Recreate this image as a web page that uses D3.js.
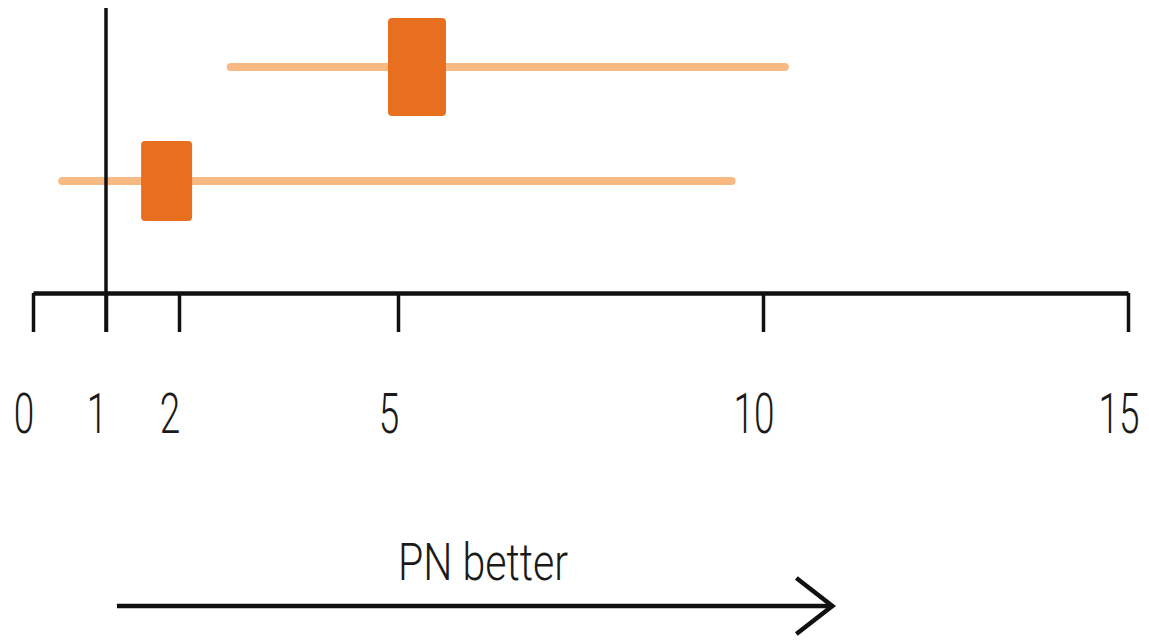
<!DOCTYPE html>
<html>
<head>
<meta charset="utf-8">
<script src="https://cdn.jsdelivr.net/npm/d3@7"></script>
<style>
  body { margin: 0; background: #fff; }
  text { font-family: Roboto, "Liberation Sans", Arial, sans-serif; font-weight: 300; fill: #1a1a1a; }
</style>
</head>
<body>
<div id="vis"></div>
<script>
// forest plot rows (top to bottom)
const studies = ['A', 'B'];
const estimate = [5.26, 1.83];
const lower = [2.71, 0.40];
const upper = [10.30, 9.57];
const weight = [58, 42]; // box size
const tickValues = [0, 1, 2, 5, 10, 15];

const width = 1149;
const height = 641;

const svg = d3.select('#vis')
    .append('svg')
    .attr('width', width)
    .attr('height', height);

const x = d3.scaleLinear().domain([0, 15]).range([33, 1128]);
const y = d3.scaleBand().domain(studies).range([10, 238]).padding(0);
const boxH = d3.scaleLinear().domain([42, 58]).range([80, 98]);
const boxW = d3.scaleLinear().domain([42, 58]).range([51, 58]);

const rows = studies.map((s, i) => ({
    s, est: estimate[i], lo: lower[i], hi: upper[i], w: weight[i]
}));
const cy = d => y(d.s) + y.bandwidth() / 2;

// CI lines
svg.selectAll('line.ci')
    .data(rows)
    .join('line')
    .attr('class', 'ci')
    .attr('x1', d => x(d.lo))
    .attr('x2', d => x(d.hi))
    .attr('y1', cy)
    .attr('y2', cy)
    .attr('stroke', '#f9b983')
    .attr('stroke-width', 8)
    .attr('stroke-linecap', 'round');

// no-effect line at 1
svg.append('line')
    .attr('x1', x(1)).attr('x2', x(1))
    .attr('y1', 8).attr('y2', 332)
    .attr('stroke', '#111')
    .attr('stroke-width', 3.5);

// boxes
svg.selectAll('rect.box')
    .data(rows)
    .join('rect')
    .attr('class', 'box')
    .attr('x', d => x(d.est) - boxW(d.w) / 2)
    .attr('y', d => cy(d) - boxH(d.w) / 2)
    .attr('width', d => boxW(d.w))
    .attr('height', d => boxH(d.w))
    .attr('rx', 4)
    .style('fill', '#e86f1f');

// axis
const axis = svg.append('g')
    .attr('transform', 'translate(0,293)')
    .call(d3.axisBottom(x).tickValues(tickValues).tickSize(39).tickSizeOuter(0).tickFormat(''));
axis.select('.domain').attr('stroke', '#111').attr('stroke-width', 4.5);
axis.selectAll('.tick line').attr('stroke', '#111').attr('stroke-width', 3.5);

// tick labels
svg.selectAll('text.tl')
    .data(tickValues)
    .join('text')
    .attr('class', 'tl')
    .attr('text-anchor', 'middle')
    .attr('font-size', 56)
    .attr('transform', d => `translate(${x(d) - 9},433) scale(0.66,1)`)
    .text(d => d);

// direction label and arrow
svg.append('text')
    .attr('text-anchor', 'middle')
    .attr('font-size', 52)
    .attr('transform', 'translate(483,580) scale(0.79,1)')
    .text('PN better');

const ax1 = x(1.15), ax2 = x(10.95), ay = 606;
svg.append('line')
    .attr('x1', ax1).attr('x2', ax2 - 2)
    .attr('y1', ay).attr('y2', ay)
    .attr('stroke', '#111')
    .attr('stroke-width', 4.5);
svg.append('path')
    .attr('d', `M${ax2 - 36},${ay - 28} L${ax2},${ay} L${ax2 - 36},${ay + 28}`)
    .attr('fill', 'none')
    .attr('stroke', '#111')
    .attr('stroke-width', 4.5);
</script>
</body>
</html>
